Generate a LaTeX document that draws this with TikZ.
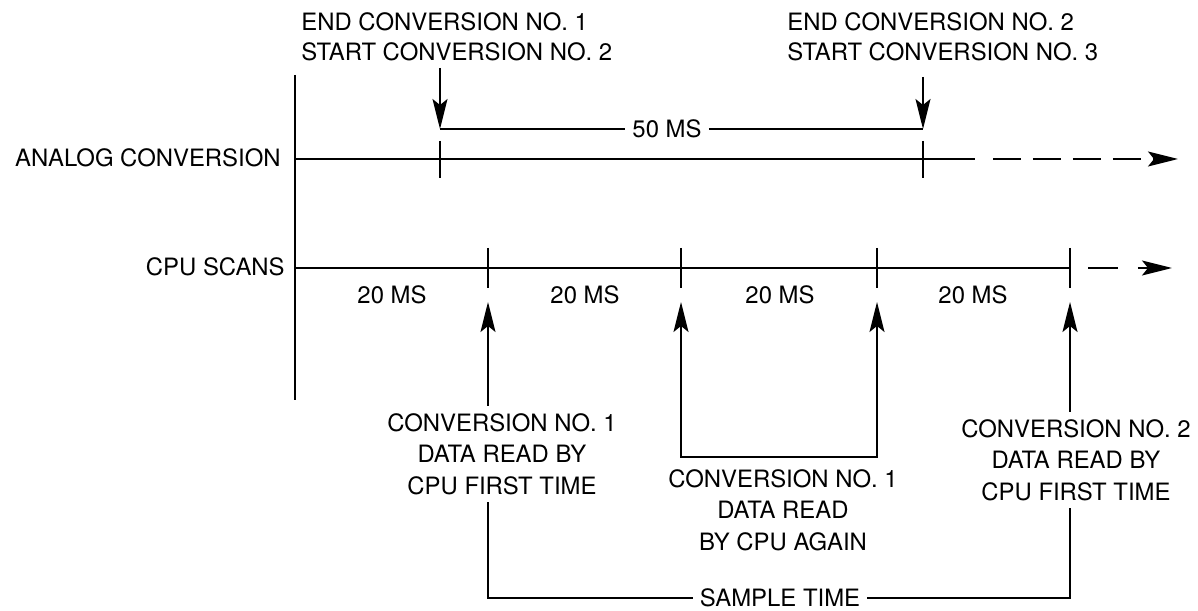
\documentclass[tikz,border=0pt]{standalone}
\usepackage{fontspec}
\setmainfont{TeX Gyre Heros}
\usetikzlibrary{
    arrows.meta,
    positioning,
    calc
}
\tikzset{
    >={Stealth[length=0.6cm, width=0.3cm, inset=0.12cm]},
    tline/.style={line width=1.1pt, draw=black},
    ttick/.style={line width=1.0pt, draw=black},
    tarr/.style={->, line width=1.1pt, draw=black},
    tlbl/.style={
        font=\fontsize{13.6}{18}\selectfont, inner sep=4pt, align=center
    },
}

\begin{document}
\begin{tikzpicture}[x=0.02cm, y=-0.02cm]
    \useasboundingbox (0,0) rectangle (1198,611);

    % ── time lines ───────────────────────────────────
    \coordinate (a0) at (295,159);
    \coordinate (a1) at (975,159);
    \coordinate (a2) at (993,159);
    \coordinate (a3) at (1178,159);
    \coordinate (c0) at (295,268);
    \coordinate (c1) at (1070,268);
    \coordinate (c2) at (1088,268);
    \coordinate (c3) at (1172,268);

    \draw [tline] (295,75) -- (295,400);
    \draw [tline] (a0) -- (a1);
    \draw [tarr, dash pattern=on 0.56cm off 0.24cm] (a2) -- (a3);
    \draw [tline] (c0) -- (c1);
    \draw [tarr, dash pattern=on 0.6cm off 0.4cm] (c2) -- (c3);

    \node [tlbl, anchor=east] (anl) at (288,158) {ANALOG CONVERSION};
    \node [tlbl, anchor=east] (cpu) at (292,267) {CPU SCANS};

    % ── ticks ────────────────────────────────────────
    \foreach \x in {440,923}
        \draw [ttick] (\x,141) -- (\x,178);
    \foreach \x in {488,681,877,1070}
        \draw [ttick] (\x,248) -- (\x,288);
    \foreach \x [count=\i] in {392,585,780,973}
        \node [tlbl] (scan\i) at (\x,295) {20 MS};

    % ── analog conversion events ─────────────────────
    \coordinate (d1) at (440,129);
    \coordinate (d2) at (923,129);

    \node [tlbl, anchor=north west, align=left, font=\fontsize{13.6}{17}\selectfont]
        (ec1) at (294,5) {END CONVERSION NO. 1\\START CONVERSION NO. 2};
    \node [tlbl, anchor=north west, align=left, font=\fontsize{13.6}{17}\selectfont]
        (ec2) at (780,5) {END CONVERSION NO. 2\\START CONVERSION NO. 3};

    \draw [tarr] (ec1.south -| d1) -- (d1);
    \draw [tarr] ($(ec2.south -| d2)+(0,9)$) -- (d2);

    \node [tlbl] (dur) at (667,129) {50 MS};
    \draw [tline] (d1) -- (dur.west);
    \draw [tline] (dur.east) -- (d2);

    % ── CPU reads ────────────────────────────────────
    \coordinate (u1) at (488,302);
    \coordinate (u2) at (681,302);
    \coordinate (u3) at (877,302);
    \coordinate (u4) at (1070,302);

    \node [tlbl, anchor=north] (rd1) at (502,406)
        {CONVERSION NO. 1\\DATA READ BY\\CPU FIRST TIME};
    \node [tlbl, anchor=north] (rd2) at (783,462)
        {CONVERSION NO. 1\\DATA READ\\BY CPU AGAIN};
    \node [tlbl, anchor=north] (rd3) at (1076,412)
        {CONVERSION NO. 2\\DATA READ BY\\CPU FIRST TIME};

    \draw [tarr] (rd1.north -| u1) -- (u1);
    \draw [tline, <->] (u2) -- ++(0,155) -| (u3);
    \draw [tarr] (rd3.north -| u4) -- (u4);

    % ── sample time ──────────────────────────────────
    \node [tlbl] (smp) at (780,598) {SAMPLE TIME};
    \draw [tline] (rd1.south -| u1) |- (smp.west);
    \draw [tline] (smp.east) -| (rd3.south -| u4);

\end{tikzpicture}
\end{document}
